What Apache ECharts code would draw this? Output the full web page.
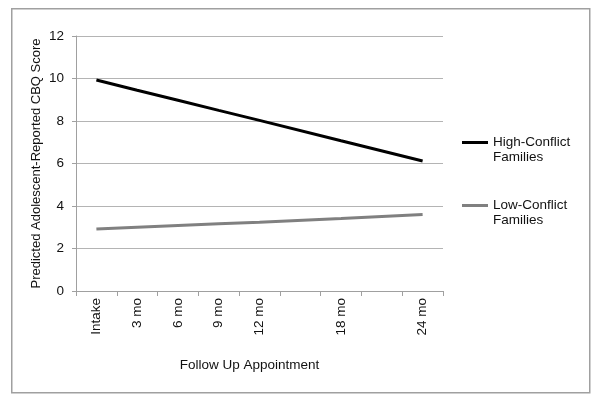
<!DOCTYPE html>
<html>
<head>
<meta charset="utf-8">
<script src="https://cdn.jsdelivr.net/npm/echarts@6/dist/echarts.min.js"></script>
<style>html,body{margin:0;padding:0;background:#fff;}#c{width:600px;height:401px;}</style>
</head>
<body>
<div id="c"></div>
<script>
var categories = ['Intake', '3 mo', '6 mo', '9 mo', '12 mo', '', '18 mo', '', '24 mo'];
var highConflict = [9.93, 9.45, 8.98, 8.5, 8.03, null, 7.07, null, 6.12];
var lowConflict = [2.92, 3.0, 3.08, 3.16, 3.24, null, 3.41, null, 3.6];
var seriesNames = ['High-Conflict\nFamilies', 'Low-Conflict\nFamilies'];
var yTicks = {min: 0, max: 12, interval: 2};

var chart = echarts.init(document.getElementById('c'), null, {renderer: 'canvas'});
var font = 'Liberation Sans, Arial, sans-serif';
chart.setOption({
  animation: false,
  backgroundColor: '#fff',
  graphic: [{
    type: 'rect', left: 11, top: 8, z: -1,
    shape: {width: 578, height: 384},
    style: {fill: '#fff', stroke: '#a0a0a0', lineWidth: 1.5}
  }],
  grid: {left: 76, right: 157, top: 36, bottom: 110},
  legend: {
    orient: 'vertical',
    left: 457, top: 115,
    itemWidth: 26, itemHeight: 3, itemGap: 18,
    icon: 'rect',
    formatter: function (name) { return ' \n' + name; },
    textStyle: {fontFamily: font, fontSize: 13.5, color: '#111', lineHeight: 15},
    data: seriesNames
  },
  xAxis: {
    type: 'category',
    data: categories,
    boundaryGap: true,
    name: 'Follow Up Appointment',
    nameLocation: 'middle',
    nameGap: 67,
    nameMoveOverlap: false,
    nameTextStyle: {fontFamily: font, fontSize: 13.5, color: '#111', padding: [0, 20, 0, 0]},
    axisLine: {lineStyle: {color: '#a0a0a0', width: 1}},
    axisTick: {show: true, length: 5, lineStyle: {color: '#a0a0a0'}},
    axisLabel: {rotate: 90, margin: 7, fontFamily: font, fontSize: 13.5, color: '#111', interval: 0}
  },
  yAxis: {
    type: 'value',
    min: yTicks.min, max: yTicks.max, interval: yTicks.interval,
    name: 'Predicted Adolescent-Reported CBQ Score',
    nameLocation: 'middle',
    nameGap: 33,
    nameMoveOverlap: false,
    nameTextStyle: {fontFamily: font, fontSize: 13, color: '#111'},
    axisLine: {show: true, lineStyle: {color: '#a0a0a0', width: 1}},
    axisTick: {show: true, length: 4, lineStyle: {color: '#a0a0a0'}},
    axisLabel: {margin: 12, fontFamily: font, fontSize: 13.5, color: '#111'},
    splitLine: {lineStyle: {color: '#b4b4b4', width: 1}}
  },
  series: [{
    name: seriesNames[0], type: 'line', data: highConflict, connectNulls: true,
    showSymbol: false, symbol: 'none',
    lineStyle: {color: '#000', width: 3}, itemStyle: {color: '#000'}
  }, {
    name: seriesNames[1], type: 'line', data: lowConflict, connectNulls: true,
    showSymbol: false, symbol: 'none',
    lineStyle: {color: '#808080', width: 3}, itemStyle: {color: '#808080'}
  }]
});
</script>
</body>
</html>
